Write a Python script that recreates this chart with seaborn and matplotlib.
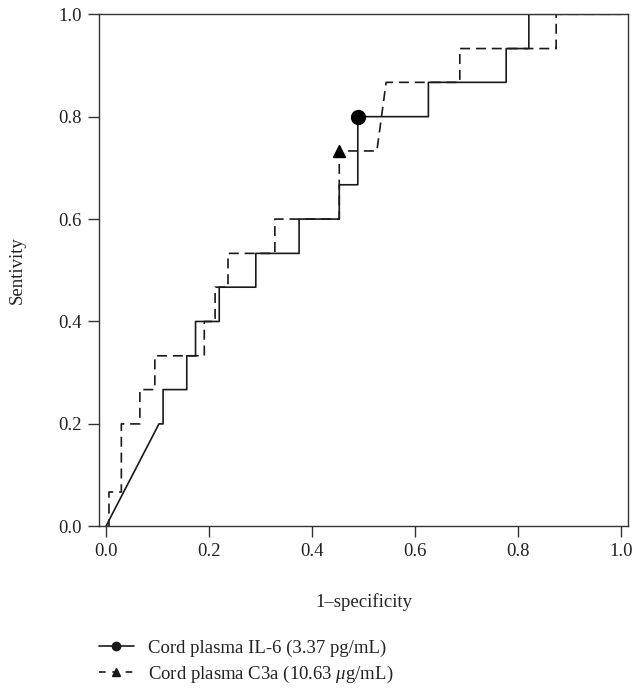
import matplotlib
matplotlib.use("Agg")
import matplotlib.pyplot as plt
from matplotlib.lines import Line2D
import pandas as pd
import seaborn as sns

# ROC step vertices
il6_fpr = [0.0, 0.103, 0.111, 0.111, 0.157, 0.157, 0.174, 0.174, 0.220, 0.220, 0.291, 0.291,
           0.375, 0.375, 0.453, 0.453, 0.489, 0.489, 0.626, 0.626, 0.777, 0.777, 0.821, 0.821, 1.0]
il6_tpr = [0.0, 0.2, 0.2, 0.267, 0.267, 0.333, 0.333, 0.4, 0.4, 0.467, 0.467, 0.533,
           0.533, 0.6, 0.6, 0.667, 0.667, 0.8, 0.8, 0.867, 0.867, 0.933, 0.933, 1.0, 1.0]

c3a_fpr = [0.0, 0.006, 0.006, 0.030, 0.030, 0.066, 0.066, 0.095, 0.095, 0.191, 0.191, 0.212, 0.212,
           0.237, 0.237, 0.328, 0.328, 0.453, 0.453, 0.526, 0.544, 0.687, 0.687, 0.874, 0.874, 1.0]
c3a_tpr = [0.0, 0.0, 0.067, 0.067, 0.2, 0.2, 0.267, 0.267, 0.333, 0.333, 0.4, 0.4, 0.467,
           0.467, 0.533, 0.533, 0.6, 0.6, 0.733, 0.733, 0.867, 0.867, 0.933, 0.933, 1.0, 1.0]

# optimal cut-off points
il6_cut = (0.489, 0.8)
c3a_cut = (0.453, 0.733)

labels = ["Cord plasma IL-6 (3.37 pg/mL)", "Cord plasma C3a (10.63 $\\mu$g/mL)"]
ticks = [0.0, 0.2, 0.4, 0.6, 0.8, 1.0]

sns.set_theme(style="ticks")
plt.rcParams['font.family'] = ['Liberation Serif', 'DejaVu Serif']
plt.rcParams['mathtext.fontset'] = 'custom'
plt.rcParams['mathtext.it'] = 'Liberation Serif:italic'
plt.rcParams['mathtext.rm'] = 'Liberation Serif'

fs = 13.5
fig = plt.figure(figsize=(6.35, 6.88), dpi=100)
ax = fig.add_axes([0.1554, 0.235, 0.834, 0.7443])

col = '#1a1a1a'
df_il6 = pd.DataFrame({'fpr': il6_fpr, 'tpr': il6_tpr})
df_c3a = pd.DataFrame({'fpr': c3a_fpr, 'tpr': c3a_tpr})

sns.lineplot(data=df_il6, x='fpr', y='tpr', sort=False, estimator=None, color=col, lw=1.2, ax=ax)
sns.lineplot(data=df_c3a, x='fpr', y='tpr', sort=False, estimator=None, color=col, lw=1.2,
             ax=ax, linestyle=(0, (6, 3.5)))
ax.plot([il6_cut[0]], [il6_cut[1]], marker='o', ms=10, color='black', zorder=5)
ax.plot([c3a_cut[0]], [c3a_cut[1]], marker='^', ms=9, color='black', zorder=5)

ax.set_xlim(-0.014, 1.014)
ax.set_ylim(0, 1.0)
ax.set_xticks(ticks)
ax.set_yticks(ticks)
ax.set_xticklabels([f'{t:.1f}' for t in ticks])
ax.set_yticklabels([f'{t:.1f}' for t in ticks])
ax.tick_params(direction='out', length=8, width=1, colors='#333333', labelcolor='#222222',
               labelsize=fs, pad=4)
for s in ax.spines.values():
    s.set_color('#333333')
    s.set_linewidth(1.0)
    s.set_visible(True)

ax.set_xlabel('1\u2013specificity', fontsize=fs, color='#222222')
ax.set_ylabel('Sentivity', fontsize=fs, color='#222222')
ax.xaxis.set_label_coords(0.5, -0.13)
ax.yaxis.set_label_coords(-0.137, 0.5)

handles = [
    Line2D([], [], color=col, lw=1.2, marker='o', ms=6),
    Line2D([], [], color=col, lw=1.2, marker='^', ms=6, linestyle=(0, (4, 4))),
]
fig.legend(handles, labels, loc='upper left', bbox_to_anchor=(0.144, 0.081), frameon=False,
           fontsize=fs, handlelength=1.87, handletextpad=0.75, labelspacing=0.35,
           labelcolor='#222222', borderaxespad=0)

fig.savefig('out.png', dpi=100)
